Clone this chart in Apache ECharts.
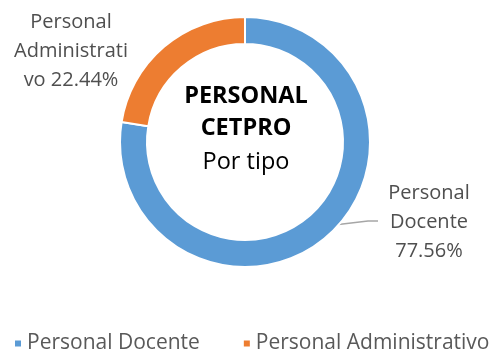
<!DOCTYPE html>
<html>
<head>
<meta charset="utf-8">
<script src="https://cdn.jsdelivr.net/npm/echarts@6/dist/echarts.min.js"></script>
<style>
  html, body { margin: 0; padding: 0; background: #fff; }
  #chart { width: 492px; height: 350px; }
</style>
</head>
<body>
<div id="chart"></div>
<script>
// Staff composition of the CETPRO, by type
const categories = ['Personal Docente', 'Personal Administrativo'];
const shares = [77.56, 22.44];
const colors = ['#5B9BD5', '#ED7D31'];
// wrapped data-label text; {v} is replaced by the percentage
const labelTemplates = ['Personal\nDocente\n{v}', 'Personal\nAdministrati\nvo {v}'];
const centerLines = ['PERSONAL', 'CETPRO', 'Por tipo'];

const FONT = '"Open Sans", "Noto Sans", sans-serif';
const CX = 245, CY = 142, R_IN = 98, R_OUT = 125;

const chart = echarts.init(document.getElementById('chart'), null, { renderer: 'canvas' });

const data = categories.map((name, i) => ({
  name,
  value: shares[i],
  itemStyle: { color: colors[i] }
}));

// mid-ring point of a slice, used as the leader line start
function midRingPoint(idx) {
  const total = shares.reduce((a, b) => a + b, 0);
  let before = 0;
  for (let i = 0; i < idx; i++) before += shares[i];
  const midDeg = 90 - 360 * (before + shares[idx] / 2) / total;
  const rad = midDeg * Math.PI / 180;
  const r = (R_IN + R_OUT) / 2;
  return [CX + r * Math.cos(rad), CY - r * Math.sin(rad)];
}

const centerY = [96, 128, 162];
const centerGraphics = centerLines.map((t, i) => ({
  type: 'text',
  x: CX + 1,
  y: centerY[i],
  style: {
    text: t,
    textAlign: 'center',
    textVerticalAlign: 'middle',
    fontFamily: FONT,
    fontWeight: i < 2 ? 'bold' : 'normal',
    fontSize: 23.5,
    fill: '#000'
  }
}));

chart.setOption({
  animation: false,
  legend: {
    data: categories,
    left: 8,
    bottom: -9,
    width: 560,
    icon: 'rect',
    itemWidth: 8,
    itemHeight: 8,
    itemGap: 42,
    textStyle: { fontFamily: FONT, fontSize: 21, color: '#595959' }
  },
  graphic: centerGraphics,
  series: [{
    type: 'pie',
    center: [CX, CY],
    radius: [R_IN, R_OUT],
    startAngle: 90,
    clockwise: true,
    avoidLabelOverlap: false,
    itemStyle: { borderColor: '#fff', borderWidth: 2 },
    label: {
      show: true,
      position: 'outside',
      fontFamily: FONT,
      fontSize: 20,
      lineHeight: 29,
      color: '#4F4F4F',
      align: 'center',
      formatter: p => labelTemplates[p.dataIndex].replace('{v}', p.value.toFixed(2) + '%')
    },
    labelLine: {
      show: true,
      lineStyle: { color: '#A6A6A6', width: 1.5 }
    },
    labelLayout: function (p) {
      if (p.dataIndex === 0) {
        const s = midRingPoint(0);
        return {
          x: 429, y: 222.5, align: 'center', verticalAlign: 'middle',
          labelLinePoints: [s, [368, 221], [378, 221]]
        };
      }
      return {
        x: 71, y: 51, align: 'center', verticalAlign: 'middle',
        labelLinePoints: [[71, 51], [71, 51], [71, 51]]
      };
    },
    data
  }]
});
</script>
</body>
</html>
